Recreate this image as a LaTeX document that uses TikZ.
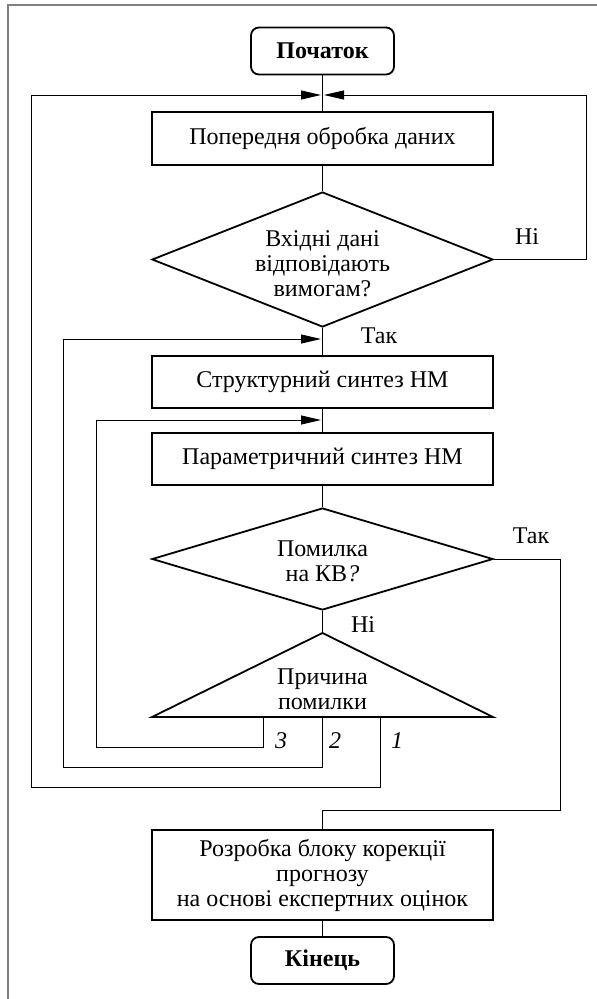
\documentclass[tikz,border=0pt]{standalone}
\usepackage{fontspec}
\setmainfont{Liberation Serif}
\usetikzlibrary{arrows.meta,shapes.geometric}
\begin{document}
\begin{tikzpicture}[x=1pt,y=-1pt,
  txt/.style={font=\fontsize{24}{25}\selectfont, align=center, inner sep=0pt},
  box/.style={draw, line width=1.8pt, minimum width=341pt, inner sep=0pt, txt},
  term/.style={draw, line width=1.8pt, rounded corners=8pt, minimum width=143pt, minimum height=47pt, inner sep=0pt, font=\fontsize{24}{25}\selectfont\bfseries},
  dec/.style={draw, diamond, line width=1.8pt, inner sep=0pt, minimum width=341pt},
  conn/.style={line width=1pt},
  arr/.style={conn, -{Triangle[length=20pt,width=9pt]}, shorten >=1.5pt},
  lab/.style={font=\fontsize{24}{25}\selectfont, inner sep=0pt},
  num/.style={font=\fontsize{24}{25}\selectfont\itshape, inner sep=0pt}
]
\useasboundingbox (0,0) rectangle (597,999);
\fill[white] (0,0) rectangle (597,999);
\draw[line width=1.5pt, black!50] (8,999) -- (8,5) -- (597,5);

\node[term] (start) at (322.5,51) {Початок};
\node[box, minimum height=53pt] (pre) at (322.5,138.5) {Попередня обробка даних};
\node[dec, minimum height=135pt] (d1) at (322.5,259.5) {};
\node[txt] (d1t) at (322.5,264) {Вхідні дані\\відповідають\\вимогам?};
\node[box, minimum height=52pt] (str) at (322.5,382) {Структурний синтез НМ};
\node[box, minimum height=52pt] (par) at (322.5,459) {Параметричний синтез НМ};
\node[dec, minimum height=102pt] (d2) at (322.5,559) {};
\node[txt] (d2t) at (322.5,561) {Помилка\\на КВ\textit{?}};
\coordinate (ta) at (322.5,633);
\coordinate (tl) at (152,717);
\coordinate (tr) at (493,717);
\draw[line width=1.8pt] (ta) -- (tl) -- (tr) -- cycle;
\node[txt] (trit) at (322.5,689) {Причина\\помилки};
\node[box, minimum height=90pt] (dev) at (322.5,875) {Розробка блоку корекції\\прогнозу\\на основі експертних оцінок};
\node[term] (end) at (322.5,960.5) {Кінець};

\coordinate (j1) at (322.5,95);
\coordinate (j2) at (322.5,339);
\coordinate (j3) at (322.5,420);
\coordinate (j4) at (322.5,810);
\coordinate (b1) at (380,717);
\coordinate (b2) at (322.5,717);
\coordinate (b3) at (263.5,717);

\draw[conn] (start) -- (pre);
\draw[conn] (pre) -- (d1);
\draw[conn] (d1) -- (str);
\draw[conn] (str) -- (par);
\draw[conn] (par) -- (d2);
\draw[conn] (d2) -- (ta);
\draw[conn] (dev) -- (end);

\draw[arr] (d1.east) -- ++(92.5,0) |- (j1);
\draw[arr] (b1) -- ++(0,70) -- ++(-349,0) |- (j1);
\draw[arr] (b2) -- ++(0,50) -- ++(-259.5,0) |- (j2);
\draw[arr] (b3) -- ++(0,30) -- ++(-167.5,0) |- (j3);
\draw[conn] (d2.east) -- ++(66.5,0) |- (j4) -- (dev.north);

\node[lab] (no1) at (527,237) {Ні};
\node[lab] (yes1) at (379,336) {Так};
\node[lab] (yes2) at (531,536) {Так};
\node[lab] (no2) at (363,625) {Ні};
\node[num] (n3) at (281,741) {3};
\node[num] (n2) at (335,741) {2};
\node[num] (n1) at (397,741) {1};
\end{tikzpicture}
\end{document}
